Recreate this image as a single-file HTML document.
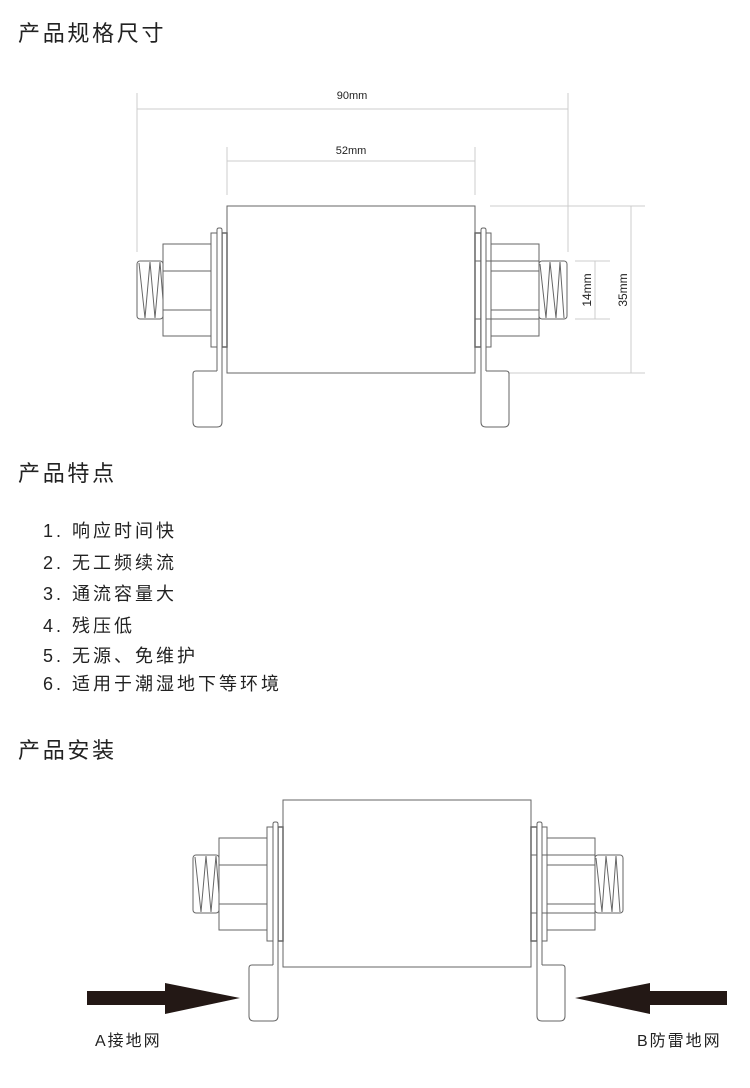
<!DOCTYPE html>
<html><head><meta charset="utf-8"><style>
body{margin:0;width:750px;height:1088px;background:#fff;overflow:hidden}
svg{display:block}
.h{font-family:"Liberation Sans","Noto Sans CJK SC",sans-serif;font-size:22px;fill:#222;letter-spacing:2.7px}
.l{font-family:"Liberation Sans","Noto Sans CJK SC",sans-serif;font-size:18px;fill:#222;letter-spacing:3px}
.d{font-family:"Liberation Sans",sans-serif;font-size:11px;fill:#222}
</style></head><body>
<svg width="750" height="1088" viewBox="0 0 750 1088">
<defs>
<g id="dev" fill="none" stroke="#666" stroke-width="1">
<rect x="227" y="206" width="248" height="167" fill="#fff"/>
<!-- left -->
<rect x="137" y="261" width="26" height="58" rx="3"/>
<path d="M139 263 L145 318 L150 262 L155 318 L160 262 L163 300"/>
<rect x="163" y="244" width="48" height="92"/>
<path d="M163 271 H211 M163 310 H211"/>
<rect x="211" y="233" width="6" height="114"/>
<rect x="222" y="233" width="5" height="114" stroke-width="1.5"/>
<path d="M217 371 V230 q0 -2 2 -2 h1 q2 0 2 2 V422 q0 5 -5 5 H198 q-5 0 -5 -5 V374 q0 -3 3 -3 H217" fill="#fff"/>
<!-- right -->
<rect x="539" y="261" width="28" height="58" rx="3"/>
<path d="M540 264 L546 318 L550 262 L556 318 L560 262 L564 318"/>
<rect x="491" y="244" width="48" height="92"/>
<path d="M491 271 H539 M491 310 H539 M475 261 H539 M475 319 H539"/>
<rect x="486" y="233" width="5" height="114"/>
<rect x="475" y="233" width="6" height="114" stroke-width="1.5"/>
<path d="M486 371 V230 q0 -2 -2 -2 h-1 q-2 0 -2 2 V422 q0 5 5 5 H504 q5 0 5 -5 V374 q0 -3 -3 -3 H486" fill="#fff"/>
</g>
</defs>
<text class="h" x="18" y="41">产品规格尺寸</text>
<g stroke="#ccc" stroke-width="1" fill="none">
<path d="M137 93 V252 M568 93 V252 M137 109 H568"/>
<path d="M227 147 V195 M475 147 V195 M227 161 H475"/>
<path d="M490 206 H645 M490 373 H645 M631 206 V373"/>
<path d="M575 261 H610 M575 319 H610 M595 261 V319"/>
</g>
<text class="d" x="352" y="99" text-anchor="middle">90mm</text>
<text class="d" x="351" y="154" text-anchor="middle">52mm</text>
<text class="d" style="font-size:12px" transform="translate(591 290) rotate(-90)" text-anchor="middle">14mm</text>
<text class="d" style="font-size:12px" transform="translate(627 290) rotate(-90)" text-anchor="middle">35mm</text>
<use href="#dev"/>
<text class="h" x="18" y="481">产品特点</text>
<text class="l" x="43" y="537">1. 响应时间快</text>
<text class="l" x="43" y="569">2. 无工频续流</text>
<text class="l" x="43" y="600">3. 通流容量大</text>
<text class="l" x="43" y="632">4. 残压低</text>
<text class="l" x="43" y="662">5. 无源、免维护</text>
<text class="l" x="43" y="690">6. 适用于潮湿地下等环境</text>
<text class="h" x="18" y="758">产品安装</text>
<use href="#dev" transform="translate(56 594)"/>
<path d="M87 991 H165 V983 L240 998 L165 1014 V1005 H87Z" fill="#231815"/>
<path d="M727 991 H650 V983 L575 998 L650 1014 V1005 H727Z" fill="#231815"/>
<text class="l" x="95" y="1046" style="font-size:16px;letter-spacing:2px">A接地网</text>
<text class="l" x="637" y="1046" style="font-size:16px;letter-spacing:2px">B防雷地网</text>
</svg>
</body></html>
